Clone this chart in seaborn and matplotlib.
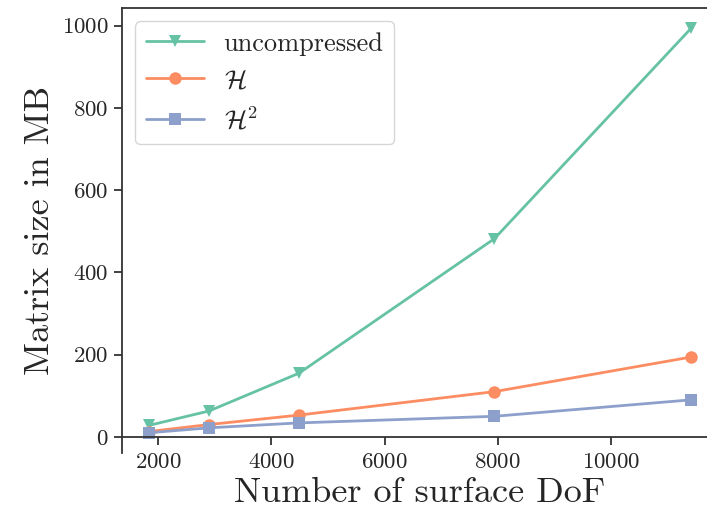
import matplotlib
matplotlib.use("Agg")
import matplotlib.pyplot as plt
import seaborn as sns
import pandas as pd

dofs = [1840, 2900, 4490, 7940, 11410]
uncompressed = [28, 63, 155, 482, 993]
h_matrix = [13, 30, 53, 110, 194]
h2_matrix = [10, 22, 34, 50, 90]
labels = ['uncompressed', r'$\mathcal{H}$', r'$\mathcal{H}^2$']
markers = ['v', 'o', 's']

sns.set_style("ticks")
plt.rcParams['font.family'] = ['cmr10', 'DejaVu Serif']
plt.rcParams['mathtext.fontset'] = 'cm'
plt.rcParams['axes.unicode_minus'] = False
plt.rcParams['axes.formatter.use_mathtext'] = True

colors = sns.color_palette("Set2", 3)

fig = plt.figure(figsize=(7.07, 5.13), dpi=100)
ax = fig.add_axes([0.1726, 0.117, 0.843, 0.867])

for vals, lab, mk, col in zip([uncompressed, h_matrix, h2_matrix], labels, markers, colors):
    df = pd.DataFrame({'dof': dofs, 'size': vals})
    sns.lineplot(data=df, x='dof', y='size', ax=ax, label=lab, marker=mk,
                 color=col, linewidth=2, markersize=9, markeredgewidth=0)

ax.spines['bottom'].set_position(('data', 0))
ax.spines['right'].set_visible(False)
for sp in ax.spines.values():
    sp.set_linewidth(1.3)
    sp.set_color('#333333')
ax.tick_params(labelsize=16.5, length=6, width=1.3, color='#333333')
ax.tick_params(axis='x', pad=5)
ax.set_xticks([2000, 4000, 6000, 8000, 10000])
ax.set_yticks([0, 200, 400, 600, 800, 1000])
ax.set_xlabel('Number of surface DoF', fontsize=26)
ax.set_ylabel('Matrix size in MB', fontsize=26)

ax.legend(loc='upper left', fontsize=19, frameon=True, handlelength=2.2,
          handletextpad=0.75)

fig.savefig('out.png', dpi=100)
